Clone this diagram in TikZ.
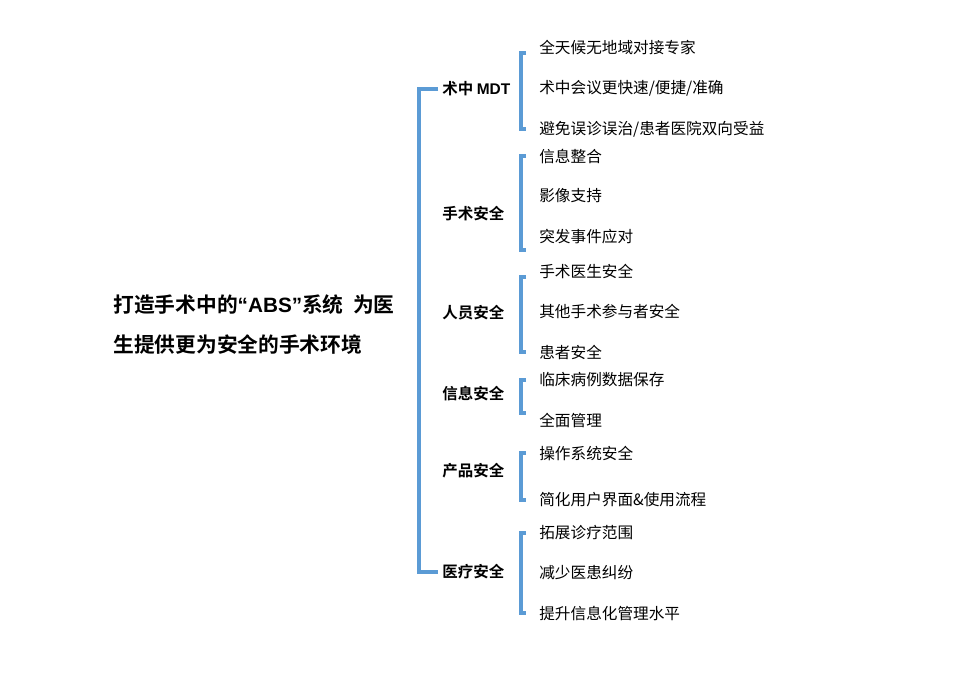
\documentclass[tikz,border=0pt]{standalone}
\usepackage{fontspec}
\setmainfont{Noto Sans CJK SC}[BoldFont={Noto Sans CJK SC Bold}]
\newfontfamily\lat{Liberation Sans}
\definecolor{braceblue}{RGB}{91,155,213}
\begin{document}
\begin{tikzpicture}[x=0.02cm, y=-0.02cm,
  brace/.style={draw=braceblue, line width=1.9pt},
  cat/.style={anchor=west, inner xsep=2.3pt, inner ysep=1pt, font=\fontsize{8.8}{10}\selectfont\bfseries},
  item/.style={anchor=west, inner xsep=7.4pt, inner ysep=1pt, font=\fontsize{8.9}{10}\selectfont}]
  \useasboundingbox (0,0) rectangle (958,684);
  % title
  \node[anchor=west, inner sep=0pt, align=left, font=\fontsize{11.8}{22.8}\selectfont\bfseries] (title) at (113,325)
    {打造手术中的{\lat “ABS”}系统\ \ 为医\\生提供更为安全的手术环境};
  % categories
  \node[cat] (mdt) at (438,89) {术中 {\lat MDT}};
  \node[cat] (ss) at (438,214) {手术安全};
  \node[cat] (ry) at (438,313) {人员安全};
  \node[cat] (xx) at (438,394) {信息安全};
  \node[cat] (cp) at (438,471) {产品安全};
  \node[cat] (yl) at (438,572) {医疗安全};
  \draw[brace] (mdt.west) -- ++(-19,0) |- (yl.west);
  % items
  \node[item] (mdt1) at (526,47) {全天候无地域对接专家};
  \node[item] (mdt2) at (526,88) {术中会议更快速/便捷/准确};
  \node[item] (mdt3) at (526,129) {避免误诊误治/患者医院双向受益};
  \node[item] (ss1) at (526,156) {信息整合};
  \node[item] (ss2) at (526,196) {影像支持};
  \node[item] (ss3) at (526,237) {突发事件应对};
  \node[item] (ry1) at (526,271) {手术医生安全};
  \node[item] (ry2) at (526,311) {其他手术参与者安全};
  \node[item] (ry3) at (526,352) {患者安全};
  \node[item] (xx1) at (526,380) {临床病例数据保存};
  \node[item] (xx2) at (526,420) {全面管理};
  \node[item] (cp1) at (526,453) {操作系统安全};
  \node[item] (cp2) at (526,500) {简化用户界面\&使用流程};
  \node[item] (yl1) at (526,533) {拓展诊疗范围};
  \node[item] (yl2) at (526,573) {减少医患纠纷};
  \node[item] (yl3) at (526,613) {提升信息化管理水平};
  % brackets
  \draw[brace] ([yshift=-3.4pt]mdt1.west) -- ++(-5,0) |- (mdt3.west);
  \draw[brace] (ss1.west) -- ++(-5,0) |- ([yshift=-7.4pt]ss3.west);
  \draw[brace] ([yshift=-3.4pt]ry1.west) -- ++(-5,0) |- (ry3.west);
  \draw[brace] (xx1.west) -- ++(-5,0) |- ([yshift=4pt]xx2.west);
  \draw[brace] (cp1.west) -- ++(-5,0) |- (cp2.west);
  \draw[brace] (yl1.west) -- ++(-5,0) |- (yl3.west);
\end{tikzpicture}
\end{document}
